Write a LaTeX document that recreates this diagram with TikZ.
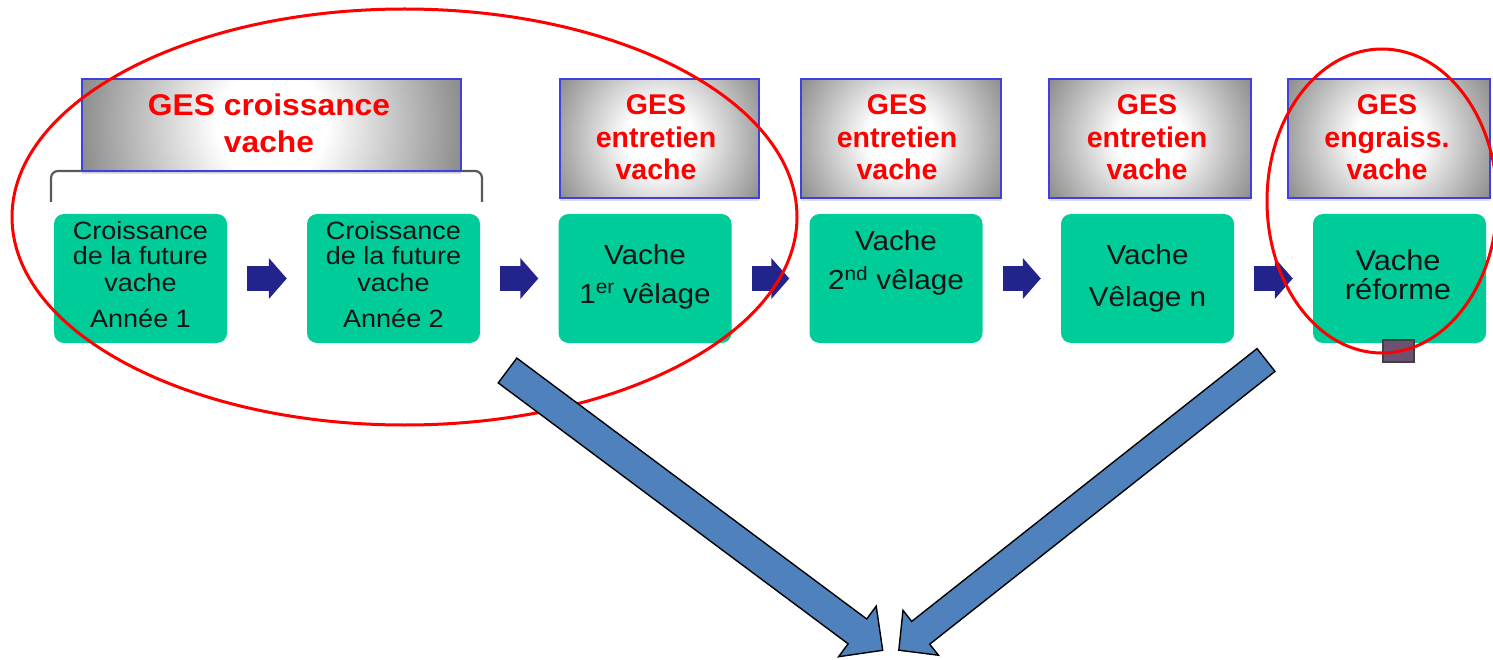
\documentclass[tikz,border=0pt]{standalone}
\usepackage{fontspec}
\setmainfont{Liberation Sans}
\newfontfamily\hdrfont[FakeStretch=1.06]{Liberation Sans Bold}
\newfontfamily\hdrfontn{Liberation Sans Bold}
\newfontfamily\boxfont[FakeStretch=1.08]{Liberation Sans}
\usetikzlibrary{arrows.meta,shadows,calc}

\definecolor{stepgreen}{RGB}{0,204,153}
\definecolor{stepnavy}{RGB}{35,35,140}
\definecolor{gesred}{RGB}{255,0,0}
\definecolor{gesblue}{RGB}{64,64,220}
\definecolor{bigblue}{RGB}{79,129,189}
\definecolor{tabpurple}{RGB}{108,82,114}
\definecolor{glowgray}{RGB}{138,138,138}

% white glow fading to grey, with a flat outer band
\pgfdeclareradialshading{gesglow}{\pgfpointorigin}{%
  color(0bp)=(white); color(7bp)=(white); color(25bp)=(glowgray); color(50bp)=(glowgray)}

\tikzset{
  gesbox/.style={draw=gesblue, line width=2pt, fill=glowgray,
    drop shadow={opacity=0.25, shadow xshift=0pt, shadow yshift=-3pt},
    path picture={\shade[shading=gesglow]
      ($(path picture bounding box.center)+(-#1,-#1)$) rectangle
      ($(path picture bounding box.center)+(#1,#1)$);}},
  gesbox/.default=118,
  stepbox/.style={fill=stepgreen, draw=none, rounded corners=10pt,
    minimum width=173pt, minimum height=129pt},
  gestext/.style={text=gesred, inner sep=0pt, anchor=base},
  steptext/.style={text=black!92, inner sep=0pt, anchor=base},
  flowarrow/.style={draw=stepnavy, line width=24pt,
    -{Triangle[length=18pt,width=40pt]}, shorten <=20pt, shorten >=20pt},
  bigarrow/.style={fill=bigblue, draw=black, line width=1.4pt, line join=miter},
  ring/.style={draw=gesred, line width=3pt},
  bracket/.style={draw=black!65, line width=2.2pt, rounded corners=7pt},
}

\begin{document}
\begin{tikzpicture}[x=1pt, y=-1pt]
\useasboundingbox (0,0) rectangle (1493,660);

% life stages
\node[stepbox] (g1) at (140.5,278.5) {};
\node[stepbox] (g2) at (393.5,278.5) {};
\node[stepbox] (g3) at (645,278.5) {};
\node[stepbox] (g4) at (896,278.5) {};
\node[stepbox] (g5) at (1147.5,278.5) {};
\node[stepbox] (g6) at (1399.5,278.5) {};

\foreach \a/\b in {g1/g2, g2/g3, g3/g4, g4/g5, g5/g6}
  \draw[flowarrow] (\a) -- (\b);

% stage texts
\begin{scope}[every node/.append style={font=\boxfont\fontsize{25pt}{26pt}\selectfont}]
\node[steptext] (g1a) at (140.5,240) {Croissance};
\node[steptext] (g1b) at (140.5,265) {de la future};
\node[steptext] (g1c) at (140.5,291) {vache};
\node[steptext] (g1d) at (140.5,327) {Année 1};
\node[steptext] (g2a) at (393.5,240) {Croissance};
\node[steptext] (g2b) at (393.5,265) {de la future};
\node[steptext] (g2c) at (393.5,291) {vache};
\node[steptext] (g2d) at (393.5,327) {Année 2};
\end{scope}
\begin{scope}[every node/.append style={font=\boxfont\fontsize{27.5pt}{29pt}\selectfont}]
\node[steptext] (g3a) at (645,265) {Vache};
\node[steptext] (g3b) at (645,303) {1\textsuperscript{er} vêlage};
\node[steptext] (g4a) at (896,251) {Vache};
\node[steptext] (g4b) at (896,290) {2\textsuperscript{nd} vêlage};
\node[steptext] (g5a) at (1147.5,265) {Vache};
\node[steptext] (g5b) at (1147.5,306) {Vêlage n};
\end{scope}
\begin{scope}[every node/.append style={font=\boxfont\fontsize{28.5pt}{30pt}\selectfont}]
\node[steptext] (g6a) at (1398,271) {Vache};
\node[steptext] (g6b) at (1398,299) {réforme};
\end{scope}

% bracket under the growth header
\draw[bracket] (51,202) -- (51,171) -- (482,171) -- (482,202);

% GHG headers
\node[gesbox=195, minimum width=379pt, minimum height=92pt] (h1) at (271.5,125) {};
\node[gesbox, minimum width=199pt, minimum height=119pt] (h2) at (659.5,138.5) {};
\node[gesbox, minimum width=200pt, minimum height=119pt] (h3) at (901,138.5) {};
\node[gesbox, minimum width=202pt, minimum height=119pt] (h4) at (1150,138.5) {};
\node[gesbox, minimum width=202pt, minimum height=119pt] (h5) at (1389,138.5) {};

\begin{scope}[every node/.append style={font=\hdrfont\fontsize{30pt}{31pt}\selectfont}]
\node[gestext] (h1a) at (269,116) {GES croissance};
\node[gestext] (h1b) at (269,153) {vache};
\end{scope}
\begin{scope}[every node/.append style={font=\hdrfontn\fontsize{28.5pt}{30pt}\selectfont}]
\node[gestext] (h2a) at (656,115) {GES};
\node[gestext] (h2b) at (656,148) {entretien};
\node[gestext] (h2c) at (656,180) {vache};
\node[gestext] (h3a) at (897,115) {GES};
\node[gestext] (h3b) at (897,148) {entretien};
\node[gestext] (h3c) at (897,180) {vache};
\node[gestext] (h4a) at (1147,115) {GES};
\node[gestext] (h4b) at (1147,148) {entretien};
\node[gestext] (h4c) at (1147,180) {vache};
\node[gestext] (h5a) at (1387,115) {GES};
\node[gestext] (h5b) at (1387,148) {engraiss.};
\node[gestext] (h5c) at (1387,180) {vache};
\end{scope}

% small tab under the last stage
\filldraw[fill=tabpurple, draw=black!75, line width=1.5pt] (1383,340) rectangle (1414,362);

% highlight rings
\draw[ring] (404.5,217) ellipse [x radius=392.5pt, y radius=208pt];
\draw[ring] (1382,201) ellipse [x radius=115pt, y radius=152pt];

% converging block arrows
\filldraw[bigarrow] (498.2,382.9) -- (516.8,358.1) -- (866.7,619.0) -- (876.2,606.2)
  -- (882.7,650.3) -- (838.6,656.7) -- (848.1,643.8) -- cycle;
\filldraw[bigarrow] (1257.0,348.6) -- (1275.0,371.4) -- (929.7,644.2) -- (938.4,655.2)
  -- (898.8,650.2) -- (903.0,610.4) -- (911.7,621.4) -- cycle;
\end{tikzpicture}
\end{document}
